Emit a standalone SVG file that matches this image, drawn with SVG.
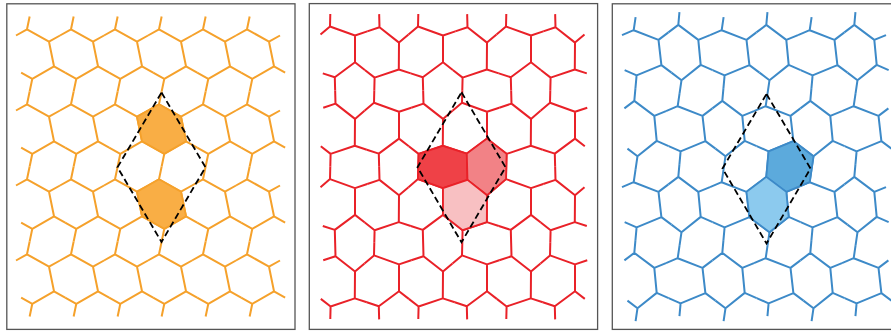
<svg xmlns="http://www.w3.org/2000/svg" width="891" height="333" viewBox="0 0 891 333">
<style>
.frame{fill:#fff;stroke:#555;stroke-width:1.3}
.lat{fill:none;stroke-width:2;stroke-linejoin:round}
.or{stroke:#f5a12b}
.rd{stroke:#e92128}
.bl{stroke:#3d8ac8}
.hx{stroke-width:1.8;stroke-linejoin:round}
.uc{fill:none;stroke:#000;stroke-width:1.8;stroke-dasharray:6.5 3.5}
</style>
<defs>
<path id="cL" d="M29.65,16.55L27,29.3L49,41.7L54,66.3L32.3,78.8L29.65,91.55M16,35.5L27,29.3M49,41.7L60,35.5M54,66.3L65.15,72.55M21.15,72.55L32.3,78.8"/>
<path id="cME" d="M330.3,13.9L330,26.5L355,35.5L355,62.3L334.8,77.3L335.15,90.45M320.5,34.55L330,26.5M355,35.5L367.25,31.4M355,62.3L364.8,69.95M322.8,73.4L334.8,77.3"/>
<path id="cMO" d="M335.15,14.15L335.5,27.3L355,42.6L354.8,69.5L330.6,77.6L330.3,90.2M323.25,31.4L335.5,27.3M355,42.6L364.5,34.55M354.8,69.5L366.8,73.4M320.8,69.95L330.6,77.6"/>
<path id="cRE" d="M635.6,17.2L633.7,30.2L658.5,39.9L661.4,65.1L636.6,75.3L635.45,88.1M622,35.05L633.7,30.2M658.5,39.9L668.4,32.4M661.4,65.1L671.45,72.65M624.65,70.1L636.6,75.3"/>
<path id="cRO" d="M635.45,12.1L634.3,24.9L654.3,39.9L656.7,64.9L637.5,80.2L635.6,93.2M624.4,32.4L634.3,24.9M654.3,39.9L666,35.05M656.7,64.9L668.65,70.1M627.45,72.65L637.5,80.2"/>
<g id="rowL"><use href="#cL"/><use href="#cL" x="44"/><use href="#cL" x="88"/><use href="#cL" x="132"/><use href="#cL" x="176"/><use href="#cL" x="220"/></g>
<g id="rowM0"><use href="#cME"/><use href="#cMO" x="44"/><use href="#cME" x="88"/><use href="#cMO" x="132"/><use href="#cME" x="176"/><use href="#cMO" x="220"/></g>
<g id="rowM1"><use href="#cMO"/><use href="#cME" x="44"/><use href="#cMO" x="88"/><use href="#cME" x="132"/><use href="#cMO" x="176"/><use href="#cME" x="220"/></g>
<g id="rowR0"><use href="#cRE"/><use href="#cRO" x="44"/><use href="#cRE" x="88"/><use href="#cRO" x="132"/><use href="#cRE" x="176"/><use href="#cRO" x="220"/></g>
<g id="rowR1"><use href="#cRO"/><use href="#cRE" x="44"/><use href="#cRO" x="88"/><use href="#cRE" x="132"/><use href="#cRO" x="176"/><use href="#cRE" x="220"/></g>
</defs>
<rect width="891" height="333" fill="#fff"/>

<g id="panel-left">
<rect class="frame" x="6.8" y="3.8" width="288.2" height="325.6"/>
<g id="lattice-left" class="lat or">
<use href="#rowL"/><use href="#rowL" y="75"/><use href="#rowL" y="150"/><use href="#rowL" y="225"/>
</g>
<g id="cells-left" class="hx or">
<polygon fill="#f9ae45" points="159,104.3 181,116.7 186,141.3 164.3,153.8 142,141.3 137,116.7"/>
<polygon fill="#f9ae45" points="159,179.3 181,191.7 186,216.3 164.3,228.8 142,216.3 137,191.7"/>
</g>
<polygon class="uc" points="161.5,92.5 205.5,167.3 161.5,242 117.5,167.3"/>
</g>

<g id="panel-middle">
<rect class="frame" x="309.3" y="3.6" width="288.3" height="325.8"/>
<g id="lattice-middle" class="lat rd">
<use href="#rowM0"/><use href="#rowM1" y="76.3"/><use href="#rowM0" y="152.6"/><use href="#rowM1" y="228.9"/>
</g>
<g id="cells-middle" class="hx rd">
<polygon fill="#ef4147" points="442.8,145.8 466.8,153.6 467.5,179.9 443,188.1 418,179.1 418.6,153.9"/>
<polygon fill="#f28286" points="487,138.6 506.6,153.9 506,179.1 487,195.2 467.5,179.9 466.8,153.6"/>
<polygon fill="#f8c0c2" points="467.5,179.9 487,195.2 486.8,222.1 462.6,230.2 443,214.9 443,188.1"/>
</g>
<polygon class="uc" points="461.5,92.3 505.5,167.3 461.5,242.3 417.5,167.3"/>
</g>

<g id="panel-right">
<rect class="frame" x="612.3" y="3.8" width="290" height="325.6"/>
<g id="lattice-right" class="lat bl">
<use href="#rowR0"/><use href="#rowR1" y="76"/><use href="#rowR0" y="152"/><use href="#rowR1" y="228"/>
</g>
<g id="cells-right" class="hx bl">
<polygon fill="#5caadc" points="793.4,141.1 813.5,156.2 809.7,182.2 786.3,191.9 766.3,176.9 768.6,151.3"/>
<polygon fill="#8ccaee" points="766.3,176.9 786.3,191.9 788.7,216.9 769.5,232.2 749.4,217.1 746.5,191.9"/>
</g>
<polygon class="uc" points="766.5,94 810.5,168.5 766.5,243.5 722.5,168.5"/>
</g>
</svg>
